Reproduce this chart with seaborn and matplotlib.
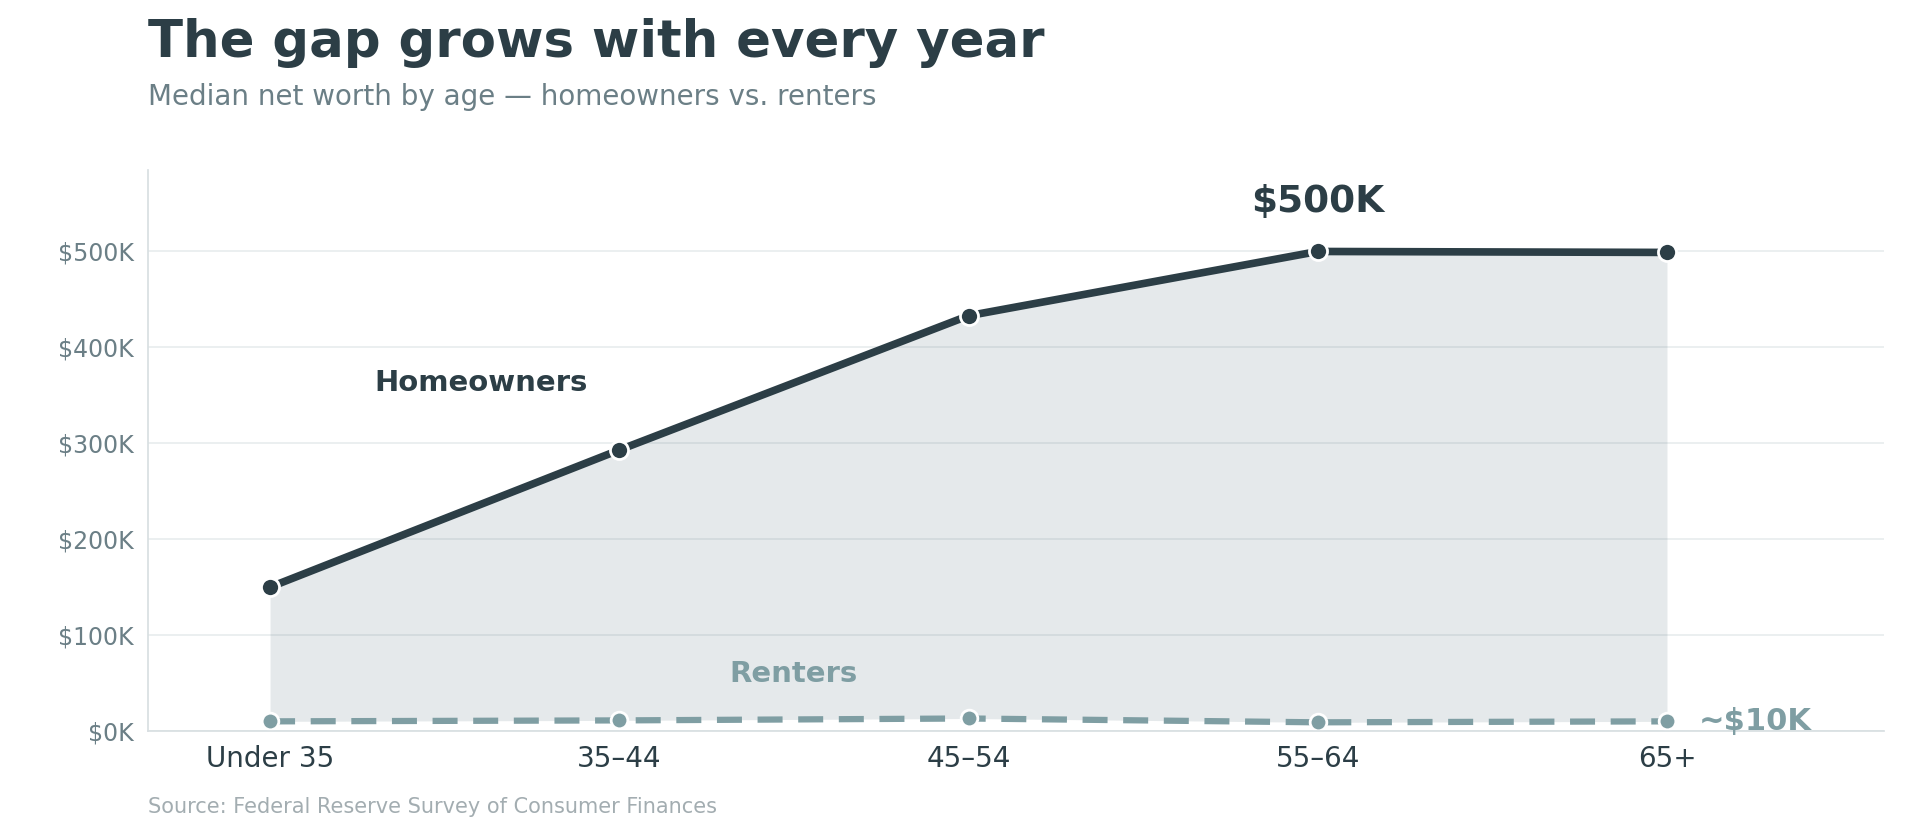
import numpy as np
import pandas as pd
import seaborn as sns
import matplotlib.pyplot as plt

age_groups = ["Under 35", "35–44", "45–54", "55–64", "65+"]
homeowners = [150, 293, 433, 500, 499]   # $K
renters = [10, 11, 13, 9, 10]            # $K

dark = "#2c3e46"
grey = "#7f9ea3"

sns.set_theme(style="white")
plt.rcParams['font.family'] = ['DejaVu Sans']

df = pd.DataFrame({"age": age_groups, "x": range(len(age_groups)),
                   "Homeowners": homeowners, "Renters": renters})

fig = plt.figure(figsize=(19.2, 8.25), dpi=100)
ax = fig.add_axes([0.077, 0.114, 0.904, 0.68])

ax.fill_between(df["x"], df["Renters"], df["Homeowners"], color="#4a6673", alpha=0.14, linewidth=0)
sns.lineplot(data=df, x="x", y="Homeowners", ax=ax, color=dark, linewidth=5.5,
             marker="o", markersize=13, markeredgecolor="white", markeredgewidth=2)
sns.lineplot(data=df, x="x", y="Renters", ax=ax, color=grey, linewidth=4.5,
             linestyle=(0, (4, 2.5)), marker="o", markersize=12,
             markeredgecolor="white", markeredgewidth=2)

ax.set_xlim(-0.35, 4.62)
ax.set_ylim(0, 585)
ax.set_xticks(df["x"])
ax.set_xticklabels(age_groups, fontsize=20, color=dark)
ax.set_yticks(range(0, 501, 100))
ax.set_yticklabels([f"${v}K" for v in range(0, 501, 100)], fontsize=17, color="#6b7f86")
ax.tick_params(axis="both", length=0, pad=10)
ax.set_xlabel("")
ax.set_ylabel("")
ax.grid(axis="y", color="#e8ecee", linewidth=1.2)
ax.set_axisbelow(True)
for s in ["top", "right"]:
    ax.spines[s].set_visible(False)
for s in ["left", "bottom"]:
    ax.spines[s].set_color("#d8dfe2")

ax.text(0.3, 363, "Homeowners", fontsize=21, fontweight="bold", color=dark, ha="left", va="center")
ax.text(1.5, 59, "Renters", fontsize=21, fontweight="bold", color=grey, ha="center", va="center")
ax.text(3, 552, "$500K", fontsize=27, fontweight="bold", color=dark, ha="center", va="center")
ax.text(4.09, 10, "~$10K", fontsize=22, fontweight="bold", color=grey, ha="left", va="center")

fig.text(0.077, 0.948, "The gap grows with every year", fontsize=37, fontweight="bold",
         color=dark, ha="left", va="center")
fig.text(0.077, 0.883, "Median net worth by age — homeowners vs. renters", fontsize=20,
         color="#6b7f86", ha="left", va="center")
fig.text(0.077, 0.022, "Source: Federal Reserve Survey of Consumer Finances", fontsize=15,
         color="#a3adb1", ha="left", va="center")

fig.savefig("out.png", dpi=100)
